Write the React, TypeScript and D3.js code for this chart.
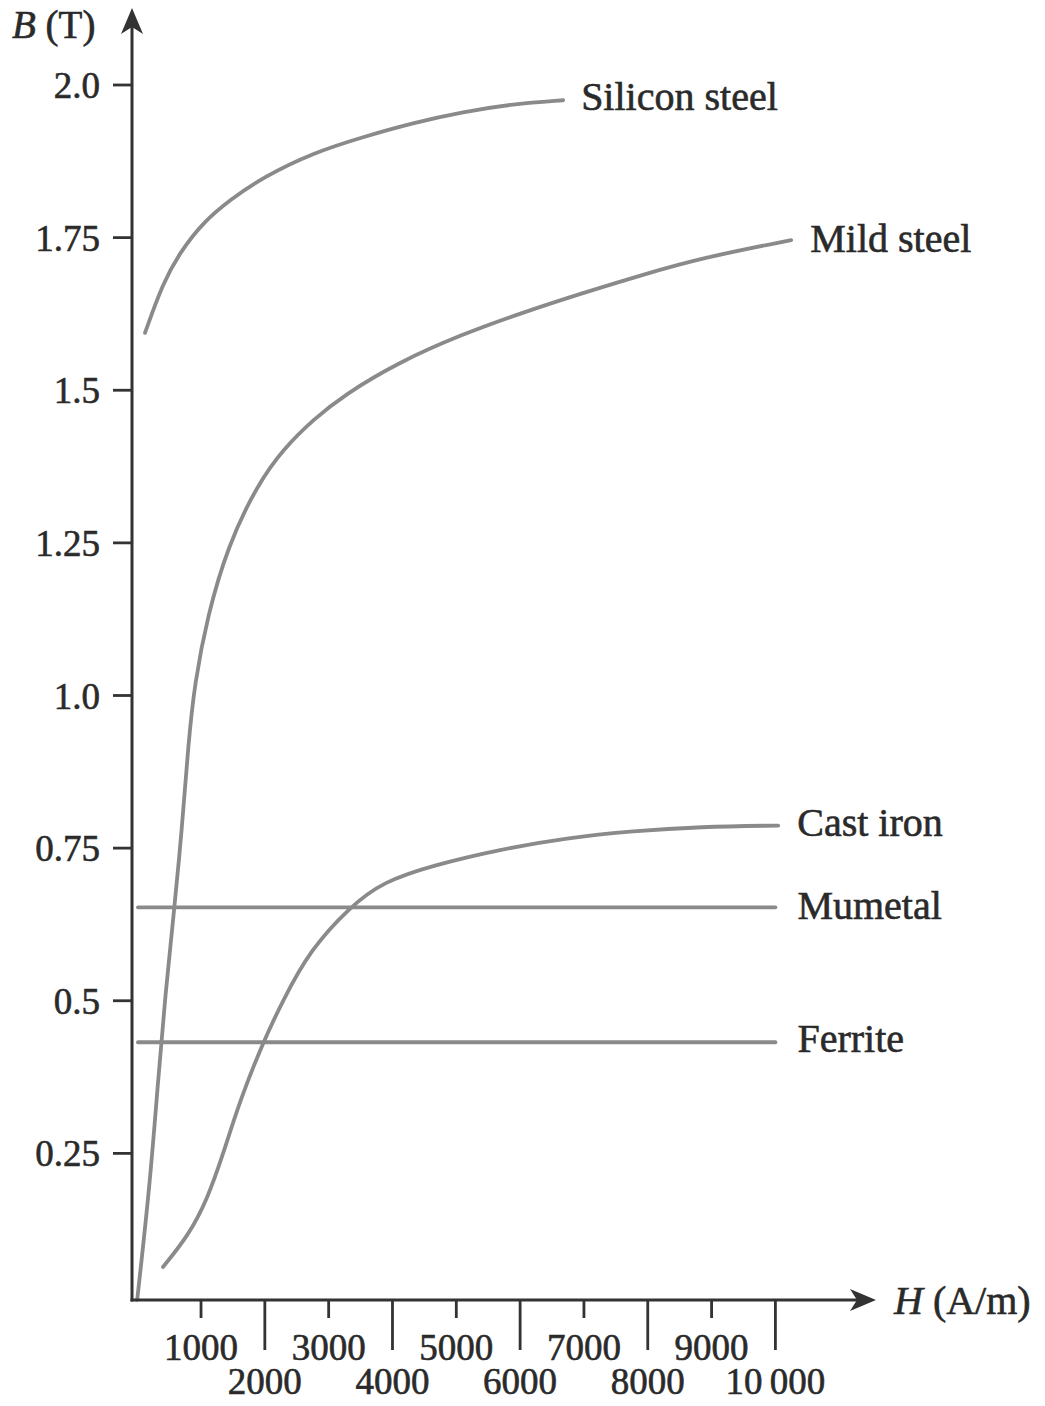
import React from "react";
import * as d3 from "d3";

type Pt = [number, number]; // [H (A/m), B (T)]

const siliconSteel: Pt[] = [
  [122, 1.594], [404, 1.676], [671, 1.726], [1031, 1.775], [1455, 1.812],
  [1972, 1.849], [2755, 1.889], [3539, 1.915], [4323, 1.938], [5107, 1.956],
  [5890, 1.969], [6674, 1.975],
];

const mildSteel: Pt[] = [
  [0, 0.01], [200, 0.2], [320, 0.36], [440, 0.51], [590, 0.66],
  [700, 0.78], [800, 0.92], [900, 1.02], [1100, 1.13],
  [1420, 1.245], [1880, 1.345], [2300, 1.405], [2760, 1.452], [3250, 1.493],
  [4100, 1.546], [5075, 1.591], [6031, 1.627], [6972, 1.659], [7912, 1.689],
  [8853, 1.717], [10248, 1.746],
];

const castIron: Pt[] = [
  [404, 0.064], [800, 0.115], [1100, 0.175], [1350, 0.25], [1611, 0.337],
  [1972, 0.432], [2285, 0.501], [2708, 0.583], [3335, 0.654], [3853, 0.695],
  [4636, 0.722], [5687, 0.748], [6737, 0.767], [7771, 0.778], [8821, 0.785],
  [10044, 0.787],
];

const mumetal: Pt[] = [[12, 0.653], [10000, 0.653]];
const ferrite: Pt[] = [[12, 0.432], [10000, 0.432]];

const seriesNames = ["Silicon steel", "Mild steel", "Cast iron", "Mumetal", "Ferrite"];
const seriesData: Pt[][] = [siliconSteel, mildSteel, castIron, mumetal, ferrite];

const yTicks = [0.25, 0.5, 0.75, 1.0, 1.25, 1.5, 1.75, 2.0];
const yTickLabels = ["0.25", "0.5", "0.75", "1.0", "1.25", "1.5", "1.75", "2.0"];
const xTicks = [1000, 2000, 3000, 4000, 5000, 6000, 7000, 8000, 9000, 10000];
const xTickLabels = ["1000", "2000", "3000", "4000", "5000", "6000", "7000", "8000", "9000", "10\u2009000"];

const FONT = "'Liberation Serif', 'Times New Roman', serif";
const TEXT = "#2a2a2a";
const AXIS = "#333333";
const CURVE = "#8a8a8a";

export default function App() {
  const W = 1045;
  const H = 1406;
  const x = d3.scaleLinear().domain([0, 10000]).range([137.2, 775.4]);
  const y = d3.scaleLinear().domain([0, 2]).range([1306, 85]);
  const axisX = 132;
  const axisY = 1300;

  const line = d3
    .line<Pt>()
    .x((d) => x(d[0]))
    .y((d) => y(d[1]))
    .curve(d3.curveBasis);

  const labelOffsets: { dx: number; dy: number }[] = [
    { dx: 18, dy: 10 },
    { dx: 19, dy: 12 },
    { dx: 19, dy: 10 },
    { dx: 22, dy: 12 },
    { dx: 22, dy: 10 },
  ];

  const textStyle = { stroke: TEXT, strokeWidth: 0.6 } as const;

  return (
    <svg
      width={W}
      height={H}
      style={{ position: "absolute", left: 0, top: 0, background: "#fff" }}
      fontFamily={FONT}
    >
      <rect x={0} y={0} width={W} height={H} fill="#fff" />

      {/* curves */}
      {seriesData.map((d, i) => (
        <path
          key={seriesNames[i]}
          d={line(d) || ""}
          fill="none"
          stroke={CURVE}
          strokeWidth={3.8}
          strokeLinecap="round"
        />
      ))}

      {/* curve labels */}
      {seriesData.map((d, i) => {
        const last = d[d.length - 1];
        return (
          <text
            key={"lab" + i}
            x={x(last[0]) + labelOffsets[i].dx}
            y={y(last[1]) + labelOffsets[i].dy}
            fontSize={40}
            fill={TEXT}
            {...textStyle}
          >
            {seriesNames[i]}
          </text>
        );
      })}

      {/* y axis */}
      <line x1={axisX} y1={axisY + 1.5} x2={axisX} y2={26} stroke={AXIS} strokeWidth={3} />
      <path
        d={`M${axisX},8 L${axisX + 11},34 L${axisX},27 L${axisX - 11},34 Z`}
        fill={AXIS}
      />
      {/* x axis */}
      <line x1={axisX - 1.5} y1={axisY} x2={860} y2={axisY} stroke={AXIS} strokeWidth={3} />
      <path
        d={`M876,${axisY} L850,${axisY - 11} L857,${axisY} L850,${axisY + 11} Z`}
        fill={AXIS}
      />

      {/* y ticks */}
      {yTicks.map((t, i) => (
        <g key={"yt" + i}>
          <line x1={113} x2={axisX} y1={y(t)} y2={y(t)} stroke={AXIS} strokeWidth={2.8} />
          <text
            x={100}
            y={y(t) + 13}
            textAnchor="end"
            fontSize={37}
            fill={TEXT}
            {...textStyle}
          >
            {yTickLabels[i]}
          </text>
        </g>
      ))}

      {/* x ticks */}
      {xTicks.map((t, i) => {
        const even = i % 2 === 1;
        return (
          <g key={"xt" + i}>
            <line
              x1={x(t)}
              x2={x(t)}
              y1={axisY}
              y2={even ? 1350 : 1318}
              stroke={AXIS}
              strokeWidth={2.8}
            />
            <text
              x={x(t)}
              y={even ? 1394 : 1360}
              textAnchor="middle"
              fontSize={37}
              fill={TEXT}
              {...textStyle}
            >
              {xTickLabels[i]}
            </text>
          </g>
        );
      })}

      {/* axis titles */}
      <text x={12} y={38} fontSize={39} fill={TEXT} {...textStyle}>
        <tspan fontStyle="italic">B</tspan>
        <tspan> (T)</tspan>
      </text>
      <text x={894} y={1314} fontSize={40} fill={TEXT} {...textStyle}>
        <tspan fontStyle="italic">H</tspan>
        <tspan> (A/m)</tspan>
      </text>
    </svg>
  );
}
